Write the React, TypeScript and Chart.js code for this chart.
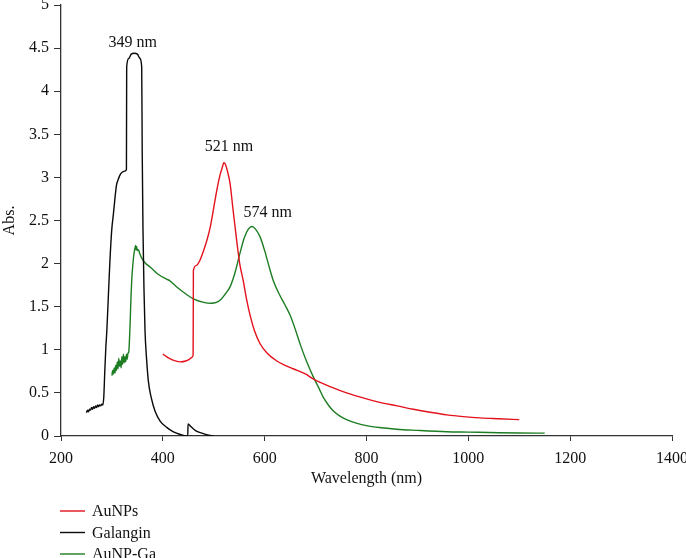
import { useEffect, useRef } from "react";
import { Chart, registerables } from "chart.js";
import type { Plugin } from "chart.js";

Chart.register(...registerables);

// UV-Vis spectra, wavelength (nm) vs absorbance
const seriesNames = ["AuNPs", "Galangin", "AuNP-Ga"];

const auNpX = [
  400, 410, 420, 434, 445, 452, 457, 459.5, 460, 466, 473, 480, 487, 493, 500,
  506, 512, 516, 520, 523, 527, 532, 538, 545, 551, 558, 564, 571, 580, 591,
  605, 624, 640, 656, 680, 696, 730, 761, 800, 826, 860, 892, 925, 958, 990,
  1023, 1060, 1100,
];
const auNpY = [
  0.95, 0.91, 0.88, 0.86, 0.87, 0.89, 0.91, 0.94, 1.92, 1.98, 2.04, 2.15, 2.28,
  2.42, 2.65, 2.85, 3.02, 3.1, 3.17, 3.15, 3.07, 2.93, 2.62, 2.27, 2.0, 1.8,
  1.6, 1.41, 1.22, 1.07, 0.96, 0.87, 0.82, 0.78, 0.72, 0.66, 0.57, 0.5, 0.43,
  0.39, 0.35, 0.31, 0.275, 0.245, 0.225, 0.21, 0.2, 0.19,
];

const galanginX = [
  250, 252, 254, 256, 258, 260, 262, 264, 266, 268, 270, 272, 274, 276, 278,
  280, 282, 284, 286, 288, 290, 293, 296, 299.5, 303, 306, 309, 312, 316, 320,
  324, 328.5, 329, 333, 338, 344, 350, 355, 358.5, 359.5, 361, 363, 365, 368,
  371.5, 377, 384.6, 395, 407.6, 420, 433, 447, 449, 449.5, 455, 465, 478, 490,
  499,
];
const galanginY = [
  0.27, 0.3, 0.28, 0.31, 0.3, 0.33, 0.31, 0.34, 0.32, 0.35, 0.33, 0.36, 0.34,
  0.36, 0.35, 0.37, 0.36, 0.45, 0.75, 1.02, 1.22, 1.62, 2.02, 2.38, 2.58, 2.76,
  2.91, 2.97, 3.03, 3.06, 3.07, 3.09, 4.28, 4.38, 4.43, 4.44, 4.43, 4.38, 4.28,
  3.3, 2.4, 1.7, 1.22, 0.9, 0.64, 0.45, 0.29, 0.17, 0.1, 0.05, 0.02, 0, 0, 0.14,
  0.11, 0.06, 0.03, 0.01, 0,
];

const auNpGaX = [
  300, 301.5, 303, 304.5, 306, 307.5, 309, 310.5, 312, 313.5, 315, 316.5, 318,
  319.5, 321, 322.5, 324, 325.5, 327, 328.5, 330, 331.5, 333, 334.5, 336, 337.5,
  339, 341, 343, 345, 346.5, 347.5, 348.5, 350, 352, 355, 358, 365, 375, 390,
  407, 414, 425, 440, 460, 480, 495, 505, 515, 523, 532, 542, 551, 560, 568,
  575, 582, 591, 600, 608, 617, 630, 640, 650, 660, 670, 682, 696, 707, 715,
  725, 735, 748, 761, 780, 800, 830, 859, 900, 958, 1000, 1060, 1100, 1150,
];
const auNpGaY = [
  0.7, 0.76, 0.72, 0.79, 0.73, 0.82, 0.76, 0.86, 0.78, 0.9, 0.81, 0.87, 0.79,
  0.92, 0.83, 0.95, 0.85, 0.92, 0.86, 0.95, 0.89, 0.96, 0.97, 1.12, 1.35, 1.62,
  1.82, 1.98, 2.1, 2.17, 2.21, 2.16, 2.2, 2.15, 2.16, 2.11, 2.07, 2.01, 1.96,
  1.88, 1.82, 1.8, 1.74, 1.67, 1.59, 1.55, 1.54, 1.55, 1.59, 1.65, 1.73, 1.9,
  2.11, 2.3, 2.4, 2.43, 2.4, 2.31, 2.15, 1.98, 1.8, 1.63, 1.52, 1.4, 1.24, 1.06,
  0.87, 0.68, 0.55, 0.45, 0.36, 0.29, 0.23, 0.19, 0.15, 0.12, 0.095, 0.078,
  0.065, 0.05, 0.045, 0.038, 0.035, 0.033,
];

// peak annotations (text placed above each maximum)
const peakText = ["349 nm", "521 nm", "574 nm"];
const peakLabelX = [341, 530, 606];
const peakLabelY = [4.56, 3.35, 2.59];

const FONT = "'Liberation Serif', 'Times New Roman', serif";

const toPoints = (xs: number[], ys: number[]) =>
  xs.map((x, i) => ({ x, y: ys[i] }));

const peakLabels: Plugin<"scatter"> = {
  id: "peakLabels",
  afterDatasetsDraw(chart) {
    const { ctx, scales } = chart;
    ctx.save();
    ctx.font = `16px ${FONT}`;
    ctx.fillStyle = "#111";
    ctx.textAlign = "center";
    ctx.textBaseline = "middle";
    peakText.forEach((t, i) => {
      ctx.fillText(
        t,
        scales.x.getPixelForValue(peakLabelX[i]),
        scales.y.getPixelForValue(peakLabelY[i]),
      );
    });
    ctx.restore();
  },
};

// stacked legend below the axis
const stackedLegend: Plugin<"scatter"> = {
  id: "stackedLegend",
  afterDraw(chart) {
    const { ctx } = chart;
    ctx.save();
    ctx.font = `16px ${FONT}`;
    ctx.textAlign = "left";
    ctx.textBaseline = "middle";
    chart.data.datasets.forEach((ds, i) => {
      const y = 511 + i * 21.5;
      ctx.strokeStyle = ds.borderColor as string;
      ctx.lineWidth = 1.4;
      ctx.beginPath();
      ctx.moveTo(60, y);
      ctx.lineTo(85, y);
      ctx.stroke();
      ctx.fillStyle = "#111";
      ctx.fillText(ds.label ?? "", 92, y + 1);
    });
    ctx.restore();
  },
};

function SpectraChart() {
  const canvasRef = useRef<HTMLCanvasElement | null>(null);
  const chartInstance = useRef<Chart<"scatter"> | null>(null);

  useEffect(() => {
    if (!canvasRef.current) return;
    const ctx = canvasRef.current.getContext("2d");
    if (!ctx) return;

    if (chartInstance.current) chartInstance.current.destroy();

    const line = {
      showLine: true,
      pointRadius: 0,
      borderWidth: 1.4,
      cubicInterpolationMode: "monotone" as const,
    };

    chartInstance.current = new Chart(ctx, {
      type: "scatter",
      data: {
        datasets: [
          {
            ...line,
            label: seriesNames[0],
            data: toPoints(auNpX, auNpY),
            borderColor: "#e3121c",
            backgroundColor: "#e3121c",
          },
          {
            ...line,
            label: seriesNames[1],
            data: toPoints(galanginX, galanginY),
            borderColor: "#0a0a0a",
            backgroundColor: "#0a0a0a",
          },
          {
            ...line,
            label: seriesNames[2],
            data: toPoints(auNpGaX, auNpGaY),
            borderColor: "#1d7d22",
            backgroundColor: "#1d7d22",
          },
        ],
      },
      options: {
        responsive: true,
        maintainAspectRatio: false,
        animation: false,
        layout: { padding: { top: 0, left: 0, right: 0, bottom: 68.5 } },
        plugins: {
          legend: { display: false },
          tooltip: { enabled: false },
        },
        scales: {
          x: {
            type: "linear",
            min: 200,
            max: 1400,
            afterFit: (scale) => {
              scale.height = 53.5;
              // let the last tick label run off the right edge, as in the source
              scale.paddingRight = 14;
            },
            ticks: {
              stepSize: 200,
              padding: 8,
              color: "#111",
              font: { family: FONT, size: 16 },
              callback: (v) => String(v),
            },
            grid: {
              drawOnChartArea: false,
              drawTicks: true,
              tickLength: 5,
              color: "#333",
            },
            border: { display: true, color: "#333", width: 1.3 },
            title: {
              display: true,
              text: "Wavelength (nm)",
              color: "#111",
              font: { family: FONT, size: 16 },
              padding: { top: 0, bottom: 1 },
            },
          },
          y: {
            type: "linear",
            min: 0,
            max: 5,
            afterFit: (scale) => {
              scale.width = 61;
              scale.paddingTop = 5;
            },
            ticks: {
              stepSize: 0.5,
              padding: 5,
              color: "#111",
              font: { family: FONT, size: 16, lineHeight: 0.8 },
              callback: (v) => String(v),
            },
            grid: {
              drawOnChartArea: false,
              drawTicks: true,
              tickLength: 7,
              color: "#333",
            },
            border: { display: true, color: "#333", width: 1.3 },
            title: {
              display: true,
              text: "Abs.",
              color: "#111",
              font: { family: FONT, size: 16 },
              padding: { top: 0, bottom: 0 },
            },
          },
        },
      },
      plugins: [peakLabels, stackedLegend],
    });

    return () => {
      if (chartInstance.current) {
        chartInstance.current.destroy();
        chartInstance.current = null;
      }
    };
  }, []);

  return <canvas ref={canvasRef} />;
}

export default function App() {
  return (
    <div
      style={{
        position: "absolute",
        left: 0,
        top: 0,
        width: 686,
        height: 558,
        background: "#fff",
      }}
    >
      <SpectraChart />
    </div>
  );
}
